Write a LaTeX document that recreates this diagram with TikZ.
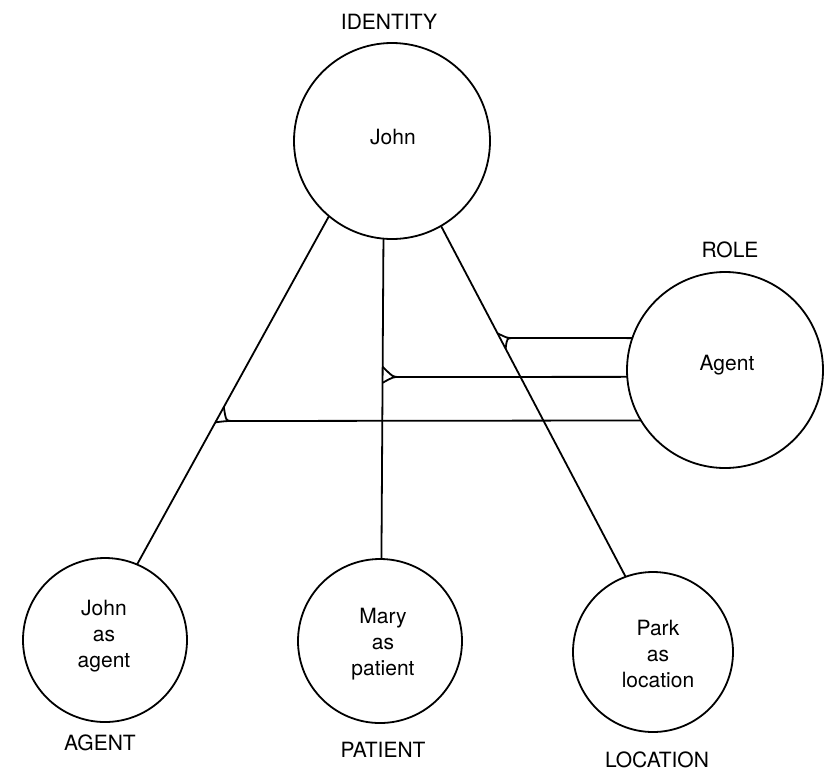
\documentclass[tikz,border=0pt]{standalone}
\usepackage{fontspec}
\setmainfont{TeX Gyre Heros}
\usetikzlibrary{calc}
\begin{document}
\begin{tikzpicture}[x=1pt,y=-1pt,
  every node/.style={font=\fontsize{21}{26}\selectfont, align=center},
  bigc/.style={draw, circle, line width=1.8pt, minimum size=196pt, inner sep=0pt, outer sep=0pt},
  smallc/.style={draw, circle, line width=1.8pt, minimum size=164pt, inner sep=0pt, outer sep=0pt},
  conn/.style={line width=1.8pt},
  lbl/.style={inner sep=0pt}]
\useasboundingbox (0,0) rectangle (829,772);
% circles
\node[bigc] (john) at (392,141) {};
\node[bigc] (agent) at (725,370) {};
\node[smallc] (ja) at (105,640) {};
\node[smallc] (mary) at (380,641) {};
\node[smallc, minimum size=160pt] (park) at (653,652) {};
% texts inside
\node[lbl] (tjohn) at (393,137) {John};
\node[lbl] (tagent) at (727,365) {Agent};
\node[lbl] (tja) at (104,636) {John\\as\\agent};
\node[lbl] (tmary) at (383,644) {Mary\\as\\patient};
\node[lbl] (tpark) at (658,654) {Park\\as\\location};
% outer labels
\node[lbl] (lid) at (389,22) {IDENTITY};
\node[lbl] (lrole) at (730,250) {ROLE};
\node[lbl] (lagent) at (100,743) {AGENT};
\node[lbl] (lpatient) at (383,750) {PATIENT};
\node[lbl] (lloc) at (657,760) {LOCATION};
% connector end points
\coordinate (j1) at (john.230.6);
\coordinate (a1) at (ja.67.4);
\coordinate (j2) at (john.265);
\coordinate (m2) at (mary.89);
\coordinate (j3) at (john.300.7);
\coordinate (p3) at (park.110.8);
\draw[conn] (j1) -- (a1);
\draw[conn] (j2) -- (m2);
\draw[conn] (j3) -- (p3);
% fork junctions
\coordinate (t1) at (513,338);
\coordinate (u1) at ($(j3)!0.306!(p3)$);
\coordinate (l1) at ($(j3)!0.350!(p3)$);
\coordinate (t2) at (399,377);
\coordinate (u2) at ($(j2)!0.40!(m2)$);
\coordinate (l2) at ($(j2)!0.45!(m2)$);
\coordinate (t3) at (232,421);
\coordinate (u3) at ($(j1)!0.548!(a1)$);
\coordinate (l3) at ($(j1)!0.592!(a1)$);
\draw[conn] (u1) .. controls ($(t1)+(-6,0)$) .. (t1) .. controls ($(t1)+(-6,0)$) .. (l1);
\draw[conn] (u2) .. controls ($(t2)+(-6,0)$) .. (t2) .. controls ($(t2)+(-6,0)$) .. (l2);
\draw[conn] (u3) .. controls ($(t3)+(-6,0)$) .. (t3) .. controls ($(t3)+(-6,0)$) .. (l3);
\draw[conn] (t1) -- (agent.161.1);
\draw[conn] (t2) -- (agent.184);
\draw[conn] (t3) -- (agent.211);
\end{tikzpicture}
\end{document}
